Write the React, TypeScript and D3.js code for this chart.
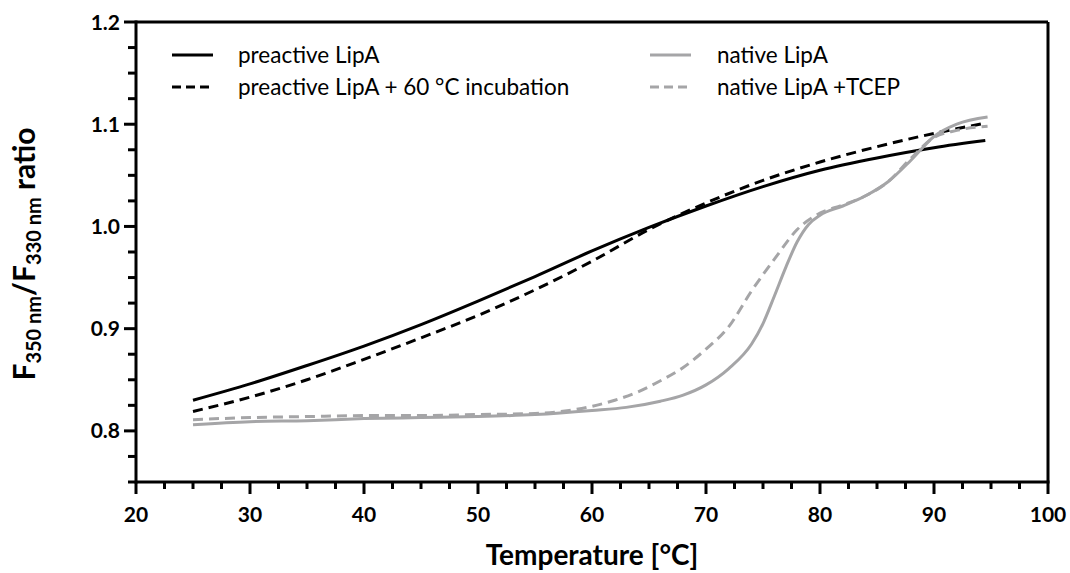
import React from "react";
import * as d3 from "d3";

// ---- Data ----
const preactiveT = [25, 30, 35, 40, 45, 50, 55, 60, 65, 70, 75, 80, 85, 90, 94.5];
const preactiveV = [0.830, 0.846, 0.864, 0.883, 0.904, 0.927, 0.951, 0.976, 0.999, 1.020, 1.039, 1.055, 1.067, 1.077, 1.084];

const incubatedT = [25, 30, 35, 40, 45, 50, 55, 60, 65, 70, 75, 80, 85, 90, 94.5];
const incubatedV = [0.819, 0.833, 0.850, 0.870, 0.891, 0.913, 0.938, 0.966, 0.997, 1.023, 1.045, 1.063, 1.078, 1.091, 1.101];

const nativeT = [25, 30, 35, 40, 45, 50, 55, 60, 63, 66, 68, 70, 72, 74, 75, 76, 77, 78, 79, 80, 82, 84, 86, 88, 90, 92, 94.7];
const nativeV = [0.806, 0.809, 0.810, 0.812, 0.813, 0.814, 0.816, 0.820, 0.823, 0.829, 0.835, 0.845, 0.861, 0.885, 0.905, 0.932, 0.960, 0.985, 1.002, 1.011, 1.020, 1.030, 1.044, 1.065, 1.088, 1.100, 1.107];

const tcepT = [25, 30, 35, 40, 45, 50, 55, 58, 60, 62, 64, 66, 68, 70, 72, 74, 76, 78, 80, 82, 84, 86, 88, 90, 92, 94.7];
const tcepV = [0.811, 0.813, 0.814, 0.815, 0.815, 0.816, 0.817, 0.820, 0.824, 0.830, 0.838, 0.849, 0.862, 0.880, 0.902, 0.937, 0.968, 0.997, 1.013, 1.021, 1.030, 1.044, 1.067, 1.087, 1.094, 1.098];

const xMajorTicks = [20, 30, 40, 50, 60, 70, 80, 90, 100];
const yMajorTicks = [0.8, 0.9, 1.0, 1.1, 1.2];
const yTickLabels = ["0.8", "0.9", "1.0", "1.1", "1.2"];

const seriesNames = ["preactive LipA", "preactive LipA + 60 °C incubation", "native LipA", "native LipA +TCEP"];

const BLACK = "#000000";
const GRAY = "#a5a5a7";

export default function App() {
  const W = 1070, H = 573;
  const left = 136, right = 1048, top = 22, bottom = 482;
  const x = d3.scaleLinear().domain([20, 100]).range([left, right]);
  const y = d3.scaleLinear().domain([0.75, 1.2]).range([bottom, top]);

  const xMinor = d3.range(20, 100.01, 2.5).filter((t) => Math.abs(t % 10) > 1e-6);
  const yMinor = d3.range(0.75, 1.2001, 0.025).filter((v) => Math.abs(Math.round(v * 10) - v * 10) > 1e-6);

  const mk = (T: number[], V: number[]) =>
    d3.line<number>().x((_, i) => x(T[i])).y((v) => y(v)).curve(d3.curveMonotoneX)(V) || "";

  const series = [
    { name: seriesNames[0], d: mk(preactiveT, preactiveV), color: BLACK, dash: null },
    { name: seriesNames[1], d: mk(incubatedT, incubatedV), color: BLACK, dash: "10,6" },
    { name: seriesNames[2], d: mk(nativeT, nativeV), color: GRAY, dash: null },
    { name: seriesNames[3], d: mk(tcepT, tcepV), color: GRAY, dash: "10,6" },
  ];

  const legendPos = [
    { lx: 172, tx: 238, ly: 55 },
    { lx: 172, tx: 238, ly: 87 },
    { lx: 650, tx: 717, ly: 55 },
    { lx: 650, tx: 717, ly: 87 },
  ];

  const font = "Lato, 'Open Sans', sans-serif";

  return (
    <svg width={W} height={H} style={{ position: "absolute", left: 0, top: 0, background: "#fff" }} fontFamily={font}>
      {/* curves */}
      {series.map((s, i) => (
        <path key={i} d={s.d} fill="none" stroke={s.color} strokeWidth={3}
          strokeDasharray={s.dash || undefined} />
      ))}

      {/* frame */}
      <line x1={left} x2={right} y1={top} y2={top} stroke="#000" strokeWidth={3} />
      <line x1={right} x2={right} y1={top} y2={bottom} stroke="#000" strokeWidth={3} />
      <line x1={left} x2={right + 1.5} y1={bottom} y2={bottom} stroke="#000" strokeWidth={3} />
      <line x1={left} x2={left} y1={top - 1.5} y2={bottom + 1.5} stroke="#000" strokeWidth={3} />

      {/* x ticks */}
      {xMajorTicks.map((t) => (
        <g key={"xm" + t}>
          <line x1={x(t)} x2={x(t)} y1={bottom} y2={bottom + 12} stroke="#000" strokeWidth={3} />
          <text x={x(t)} y={bottom + 40} textAnchor="middle" fontWeight="bold" fontSize={21}>{t}</text>
        </g>
      ))}
      {xMinor.map((t) => (
        <line key={"xn" + t} x1={x(t)} x2={x(t)} y1={bottom} y2={bottom + 7} stroke="#000" strokeWidth={3} />
      ))}

      {/* y ticks */}
      {yMajorTicks.map((v, i) => (
        <g key={"ym" + v}>
          <line x1={left - 12} x2={left} y1={y(v)} y2={y(v)} stroke="#000" strokeWidth={3} />
          <text x={left - 16} y={y(v)} dy="0.36em" textAnchor="end" fontWeight="bold" fontSize={21}>{yTickLabels[i]}</text>
        </g>
      ))}
      {yMinor.map((v) => (
        <line key={"yn" + v} x1={left - 8} x2={left} y1={y(v)} y2={y(v)} stroke="#000" strokeWidth={3} />
      ))}

      {/* axis titles */}
      <text x={(left + right) / 2} y={565} textAnchor="middle" fontWeight="bold" fontSize={28}>Temperature [°C]</text>
      <text transform={`translate(35,254) rotate(-90)`} textAnchor="middle" fontWeight="bold" fontSize={30}>
        F<tspan fontSize={20} dy={6}>350 nm</tspan><tspan dy={-6}>/F</tspan><tspan fontSize={20} dy={6}>330 nm</tspan><tspan dy={-6}> ratio</tspan>
      </text>

      {/* legend */}
      {series.map((s, i) => {
        const p = legendPos[i];
        return (
          <g key={"lg" + i}>
            <line x1={p.lx} x2={p.lx + 41} y1={p.ly} y2={p.ly} stroke={s.color} strokeWidth={3}
              strokeDasharray={s.dash ? "9,5" : undefined} />
            <text x={p.tx} y={p.ly} dy="0.35em" fontSize={22.5}>{s.name}</text>
          </g>
        );
      })}
    </svg>
  );
}
